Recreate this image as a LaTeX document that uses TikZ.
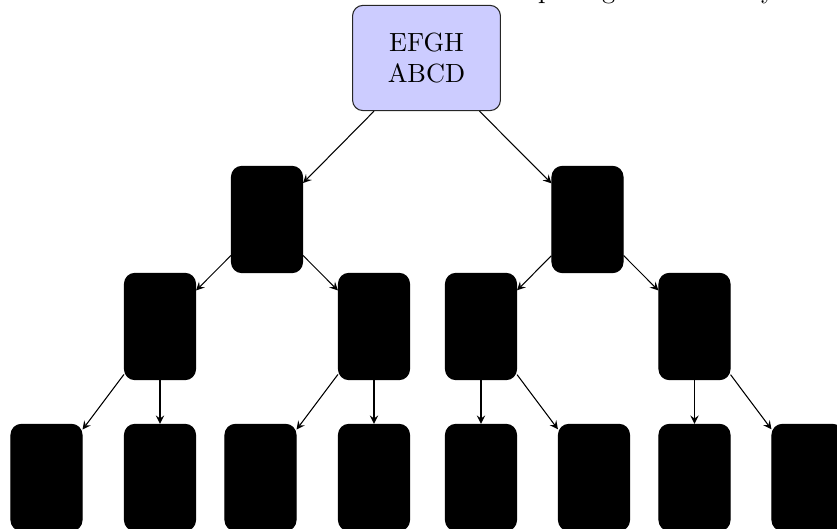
\documentclass[tikz,border=0pt]{standalone}
\begin{document}
\begin{tikzpicture}[x=0.38pt,y=-0.38pt,
  rootbox/.style={draw=black!85, fill=blue!20, rounded corners=4pt, minimum width=56.2pt, minimum height=40pt, align=center, inner sep=0pt},
  blackbox/.style={draw=black, fill=black, rounded corners=4pt, minimum width=27pt, minimum height=40.4pt, inner sep=0pt},
  frag/.style={anchor=base west, inner sep=0pt},
  link/.style={-stealth, black}]
\useasboundingbox (0,0) rectangle (837,529);
\clip (0,0) rectangle (837,529);
% clipped text fragments along the top edge
\node[frag] (fp) at (537.5,-1) {p};
\node[frag] (fg) at (601.5,-1) {g};
\node[frag] (fy) at (760.5,-1) {y};
% root
\node[rootbox] (r) at (426.5,58) {EFGH\\ABCD};
% level 1
\node[blackbox] (a) at (267,219.5) {};
\node[blackbox] (b) at (587.5,219.5) {};
% level 2
\node[blackbox] (aa) at (160,326.5) {};
\node[blackbox] (ab) at (374,326.5) {};
\node[blackbox] (ba) at (481,326.5) {};
\node[blackbox] (bb) at (694.5,326.5) {};
% level 3
\node[blackbox] (aaa) at (46.5,477.5) {};
\node[blackbox] (aab) at (160,477.5) {};
\node[blackbox] (aba) at (260.5,477.5) {};
\node[blackbox] (abb) at (374,477.5) {};
\node[blackbox] (baa) at (481,477.5) {};
\node[blackbox] (bab) at (594,477.5) {};
\node[blackbox] (bba) at (694.5,477.5) {};
\node[blackbox] (bbb) at (807.5,477.5) {};
% connectors
\draw[link] (r) -- (a);
\draw[link] (r) -- (b);
\draw[link] (a) -- (aa);
\draw[link] (a) -- (ab);
\draw[link] (b) -- (ba);
\draw[link] (b) -- (bb);
\draw[link] (aa) -- (aaa);
\draw[link] (aa) -- (aab);
\draw[link] (ab) -- (aba);
\draw[link] (ab) -- (abb);
\draw[link] (ba) -- (baa);
\draw[link] (ba) -- (bab);
\draw[link] (bb) -- (bba);
\draw[link] (bb) -- (bbb);
\end{tikzpicture}
\end{document}
